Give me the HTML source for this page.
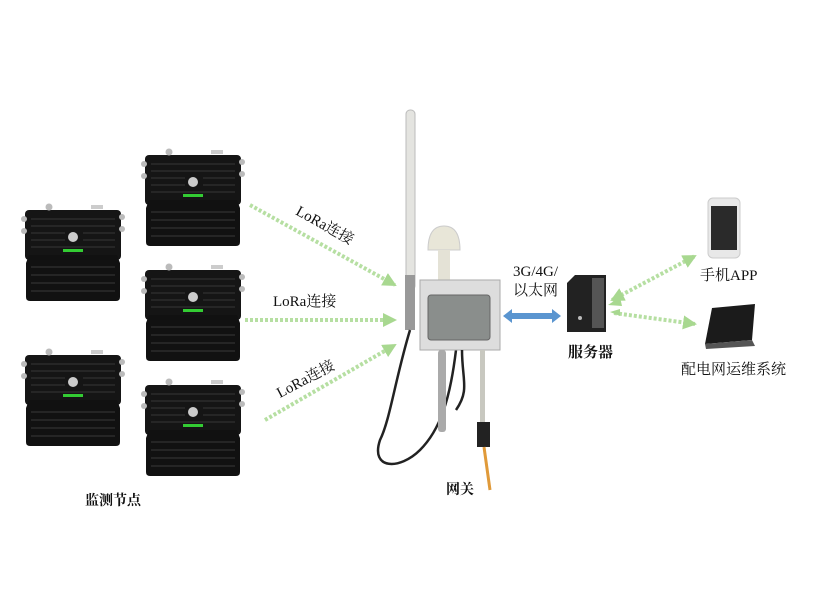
<!DOCTYPE html>
<html><head><meta charset="utf-8"><style>
body{margin:0;background:#fff;}
svg{display:block;font-family:"Liberation Serif","Noto Serif CJK SC",serif;}
</style></head><body>
<svg width="820" height="615" viewBox="0 0 820 615" xmlns="http://www.w3.org/2000/svg">
<defs>
<g id="node">
<rect x="0" y="5" width="96" height="50" rx="4" fill="#151515"/>
<path d="M4 50 L92 50 L95 58 L95 92 Q95 96 91 96 L5 96 Q1 96 1 92 L1 58 Z" fill="#111"/>
<g stroke="#2c2c2c" stroke-width="1.5">
<line x1="6" y1="14" x2="90" y2="14"/><line x1="6" y1="21" x2="90" y2="21"/><line x1="6" y1="28" x2="40" y2="28"/><line x1="58" y1="28" x2="90" y2="28"/><line x1="6" y1="35" x2="40" y2="35"/><line x1="58" y1="35" x2="90" y2="35"/><line x1="6" y1="42" x2="90" y2="42"/>
<line x1="6" y1="62" x2="90" y2="62"/><line x1="6" y1="70" x2="90" y2="70"/><line x1="6" y1="78" x2="90" y2="78"/><line x1="6" y1="86" x2="90" y2="86"/>
</g>
<circle cx="48" cy="32" r="5" fill="#ccc"/>
<rect x="38" y="44" width="20" height="3" fill="#3c3"/>
<circle cx="24" cy="2" r="3.5" fill="#bbb"/>
<rect x="66" y="0" width="12" height="4" fill="#ccc"/>
<circle cx="-1" cy="14" r="3" fill="#bbb"/><circle cx="-1" cy="26" r="3" fill="#bbb"/>
<circle cx="97" cy="12" r="3" fill="#bbb"/><circle cx="97" cy="24" r="3" fill="#bbb"/>
</g>
<marker id="ga" markerWidth="8" markerHeight="8" refX="6" refY="4" orient="auto" markerUnits="userSpaceOnUse"><path d="M0 0 L8 4 L0 8 Z" fill="#a8d890"/></marker>
<marker id="ga2" markerWidth="14" markerHeight="14" refX="12" refY="7" orient="auto" markerUnits="userSpaceOnUse"><path d="M0 0 L14 7 L0 14 Z" fill="#a8d890"/></marker>
</defs>

<use href="#node" x="25" y="205"/>
<use href="#node" x="25" y="350"/>
<use href="#node" x="145" y="150"/>
<use href="#node" x="145" y="265"/>
<use href="#node" x="145" y="380"/>

<g stroke="#b6dfa2" stroke-width="4" stroke-dasharray="3 2" fill="none">
<line x1="250" y1="205" x2="395" y2="285" marker-end="url(#ga2)"/>
<line x1="245" y1="320" x2="395" y2="320" marker-end="url(#ga2)"/>
<line x1="265" y1="420" x2="395" y2="345" marker-end="url(#ga2)"/>
<line x1="612" y1="300" x2="695" y2="256" marker-end="url(#ga2)"/>
<line x1="614" y1="313" x2="695" y2="324" marker-end="url(#ga2)"/>
<line x1="695" y1="256" x2="612" y2="300" stroke="none" marker-end="url(#ga2)"/>
</g>
<path d="M620 297 L608 305 L622 306 Z" fill="#a8d890"/>
<path d="M620 309 L610 312 L620 316 Z" fill="#a8d890"/>

<g font-size="15" fill="#111">
<text x="325" y="230" text-anchor="middle" transform="rotate(29 325 225)">LoRa连接</text>
<text x="273" y="306">LoRa连接</text>
<text x="305" y="384" text-anchor="middle" transform="rotate(-28 305 378)">LoRa连接</text>
</g>

<!-- gateway -->
<rect x="406" y="110" width="9" height="180" rx="4" fill="#e4e4e0" stroke="#bbb"/>
<rect x="405" y="275" width="10" height="55" fill="#999"/>
<path d="M410 330 C395 380 390 420 380 440 C370 470 400 470 420 450 C440 430 450 400 456 350" stroke="#222" stroke-width="2.5" fill="none"/>
<path d="M428 250 Q428 226 444 226 Q460 226 460 250 Z" fill="#e8e6d8" stroke="#ccc"/>
<rect x="438" y="250" width="12" height="40" fill="#e4e2d6"/>
<rect x="420" y="280" width="80" height="70" fill="#ddd" stroke="#aaa"/>
<rect x="428" y="295" width="62" height="45" rx="3" fill="#8a8e8c" stroke="#666"/>
<rect x="438" y="350" width="8" height="82" rx="3" fill="#aaa"/>
<path d="M462 350 C462 380 470 390 456 410" stroke="#222" stroke-width="2.5" fill="none"/>
<rect x="480" y="350" width="5" height="80" fill="#c8c8c0"/>
<rect x="477" y="422" width="13" height="25" fill="#222"/>
<line x1="484" y1="447" x2="490" y2="490" stroke="#e09a3a" stroke-width="3"/>

<path d="M503 316 L512 309 L512 313 L552 313 L552 309 L561 316 L552 323 L552 319 L512 319 L512 323 Z" fill="#5a95d0"/>

<!-- server -->
<path d="M567 283 L575 275 L606 275 L606 332 L567 332 Z" fill="#222"/>
<rect x="592" y="278" width="12" height="50" fill="#555"/>
<circle cx="580" cy="318" r="2" fill="#bbb"/>

<!-- phone -->
<rect x="708" y="198" width="32" height="60" rx="5" fill="#e8e8e8" stroke="#ccc"/>
<rect x="711" y="206" width="26" height="44" fill="#2a2a2a"/>
<!-- laptop -->
<path d="M712 308 L755 304 L752 340 L705 344 Z" fill="#1b1b1b"/>
<path d="M705 344 L752 340 L755 346 L706 349 Z" fill="#555"/>

<g fill="#111">
<text x="513" y="276" font-size="15">3G/4G/</text>
<text x="513" y="295" font-size="15">以太网</text>
<text x="700" y="280" font-size="15">手机APP</text>
<text x="681" y="374" font-size="15">配电网运维系统</text>
<text x="568" y="357" font-size="15" font-weight="bold">服务器</text>
<text x="446" y="494" font-size="14" font-weight="bold">网关</text>
<text x="85" y="505" font-size="14" font-weight="bold">监测节点</text>
</g>
</svg>
</body></html>
